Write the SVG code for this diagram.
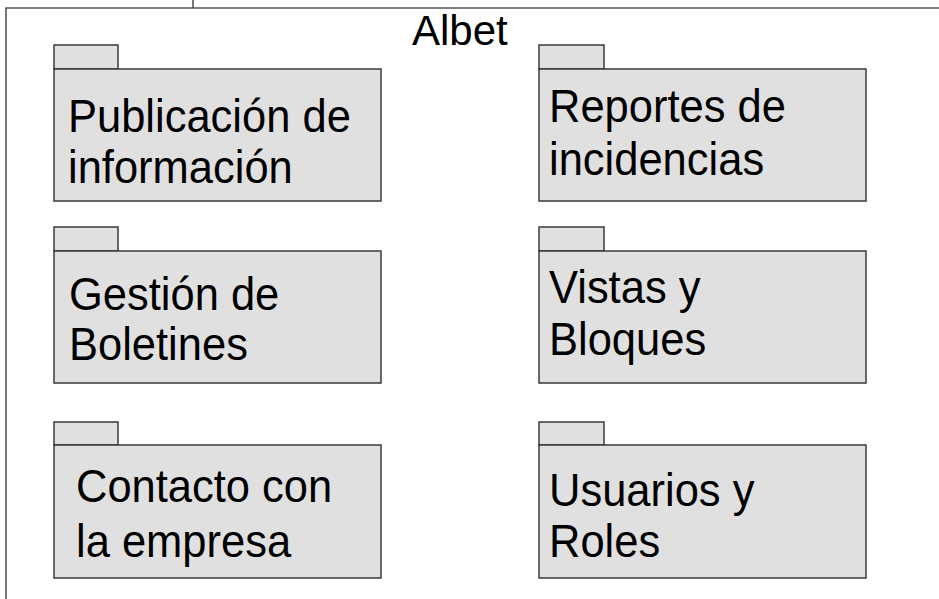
<svg xmlns="http://www.w3.org/2000/svg" width="939" height="599" viewBox="0 0 939 599">
<style>
.pk{fill:#e0e0e0;stroke:#3a3a3a;stroke-width:1.5}
.lb{font-family:"Liberation Sans",Arial,sans-serif;font-size:43.5px;fill:#000}
.fr{fill:none;stroke:#555;stroke-width:1.6}
</style>
<rect width="939" height="599" fill="#fff"/>
<g id="frame">
<path class="fr" d="M6,599 V8 H939"/>
<path class="fr" d="M193,0 V8" stroke-width="1"/>
<text x="412" y="45" style="font-family:'Liberation Sans',Arial,sans-serif;font-size:42px">Albet</text>
</g>
<g id="pkg-publicacion">
<rect class="pk" x="54" y="45" width="64" height="24"/>
<rect class="pk" x="54" y="69" width="327" height="132"/>
<text class="lb" transform="translate(68,132) scale(1,1.07)">Publicación de</text>
<text class="lb" transform="translate(68,183) scale(1,1.07)">información</text>
</g>
<g id="pkg-reportes">
<rect class="pk" x="539" y="45" width="65" height="24"/>
<rect class="pk" x="539" y="69" width="327" height="132"/>
<text class="lb" transform="translate(549,122) scale(1,1.07)">Reportes de</text>
<text class="lb" transform="translate(549,175) scale(1,1.07)">incidencias</text>
</g>
<g id="pkg-boletines">
<rect class="pk" x="54" y="227" width="64" height="24"/>
<rect class="pk" x="54" y="251" width="327" height="132"/>
<text class="lb" transform="translate(69,310) scale(1,1.07)">Gestión de</text>
<text class="lb" transform="translate(69,360) scale(1,1.07)">Boletines</text>
</g>
<g id="pkg-vistas">
<rect class="pk" x="539" y="227" width="65" height="24"/>
<rect class="pk" x="539" y="251" width="327" height="132"/>
<text class="lb" transform="translate(549,303) scale(1,1.07)">Vistas y</text>
<text class="lb" transform="translate(549,355) scale(1,1.07)">Bloques</text>
</g>
<g id="pkg-contacto">
<rect class="pk" x="54" y="422" width="64" height="23"/>
<rect class="pk" x="54" y="445" width="327" height="133"/>
<text class="lb" transform="translate(76,502) scale(1,1.07)">Contacto con</text>
<text class="lb" transform="translate(76,557) scale(1,1.07)">la empresa</text>
</g>
<g id="pkg-usuarios">
<rect class="pk" x="539" y="422" width="65" height="23"/>
<rect class="pk" x="539" y="445" width="327" height="133"/>
<text class="lb" transform="translate(549,506) scale(1,1.07)">Usuarios y</text>
<text class="lb" transform="translate(549,557) scale(1,1.07)">Roles</text>
</g>
<g id="connectors"/>
</svg>
